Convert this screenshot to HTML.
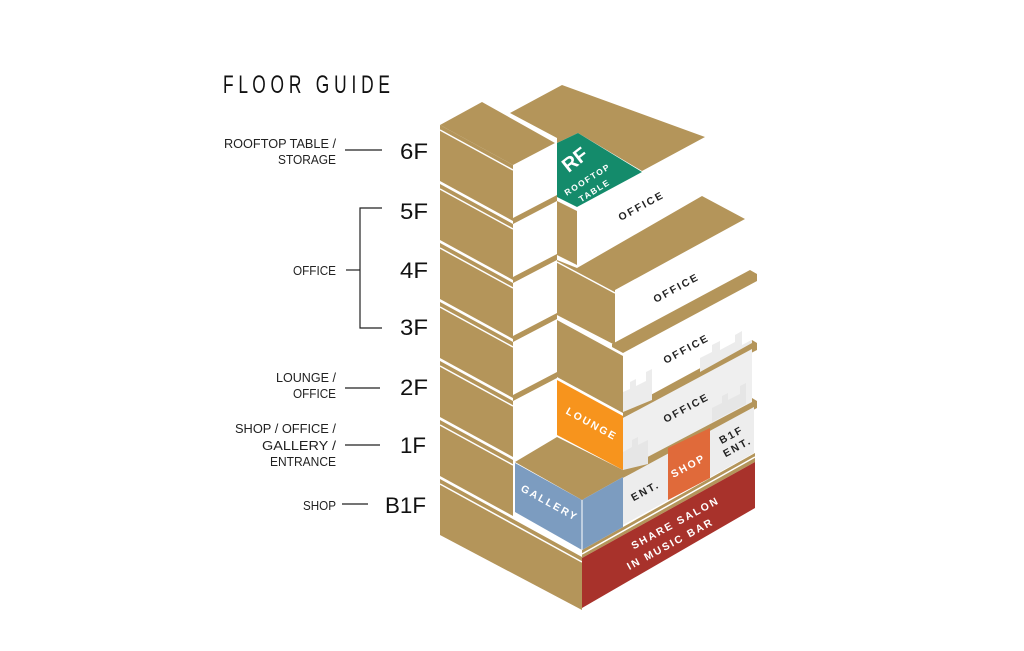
<!DOCTYPE html>
<html><head><meta charset="utf-8"><style>
html,body{margin:0;padding:0;background:#fff;}
svg{display:block;}
.lb{font-family:"Liberation Sans Narrow","Liberation Sans",sans-serif;font-size:12.5px;fill:#222;}
.fl{font-family:"Liberation Sans Narrow","Liberation Sans",sans-serif;font-size:22px;fill:#111;}
.ft{font-family:"Liberation Sans",sans-serif;font-weight:bold;font-size:10.5px;letter-spacing:2px;}
</style></head><body>
<svg width="1024" height="651" viewBox="0 0 1024 651" xmlns="http://www.w3.org/2000/svg">
<rect width="1024" height="651" fill="#fff"/>
<text x="223" y="93" font-family="Liberation Sans Narrow, Liberation Sans, sans-serif" font-size="25" fill="#111" textLength="167" lengthAdjust="spacingAndGlyphs">F L O O R &#160; G U I D E</text>
<g stroke="#222" stroke-width="1.2" fill="none">
<line x1="345" y1="150" x2="382" y2="150"/>
<polyline points="382,208 360,208 360,328 382,328"/>
<line x1="346" y1="270" x2="360" y2="270"/>
<line x1="345" y1="388" x2="380" y2="388"/>
<line x1="345" y1="445" x2="380" y2="445"/>
<line x1="342" y1="504" x2="368" y2="504"/>
</g>
<g class="lb">
<text x="224" y="148" textLength="112" lengthAdjust="spacingAndGlyphs">ROOFTOP TABLE /</text>
<text x="278" y="164" textLength="58" lengthAdjust="spacingAndGlyphs">STORAGE</text>
<text x="293" y="275" textLength="43" lengthAdjust="spacingAndGlyphs">OFFICE</text>
<text x="276" y="382" textLength="60" lengthAdjust="spacingAndGlyphs">LOUNGE /</text>
<text x="293" y="398" textLength="43" lengthAdjust="spacingAndGlyphs">OFFICE</text>
<text x="235" y="433" textLength="101" lengthAdjust="spacingAndGlyphs">SHOP / OFFICE /</text>
<text x="262" y="450" textLength="74" lengthAdjust="spacingAndGlyphs">GALLERY /</text>
<text x="270" y="466" textLength="66" lengthAdjust="spacingAndGlyphs">ENTRANCE</text>
<text x="303" y="510" textLength="33" lengthAdjust="spacingAndGlyphs">SHOP</text>
</g>
<g class="fl">
<text x="400" y="159" textLength="28" lengthAdjust="spacingAndGlyphs">6F</text>
<text x="400" y="219" textLength="28" lengthAdjust="spacingAndGlyphs">5F</text>
<text x="400" y="278" textLength="28" lengthAdjust="spacingAndGlyphs">4F</text>
<text x="400" y="335" textLength="28" lengthAdjust="spacingAndGlyphs">3F</text>
<text x="400" y="395" textLength="28" lengthAdjust="spacingAndGlyphs">2F</text>
<text x="400" y="453" textLength="26" lengthAdjust="spacingAndGlyphs">1F</text>
<text x="385" y="513" textLength="41" lengthAdjust="spacingAndGlyphs">B1F</text>
</g>

<g fill="#B4955A">
<polygon points="510,113 562,85 705,137 642,171 578,133 557,143 557,138"/>
<polygon points="440,125 482,102 555,143 513,165"/>
<polygon points="440,125 513,165 513,221 440,181"/>
<polygon points="440,184 513,224 513,280 440,240"/>
<polygon points="440,243 513,283 513,339 440,299"/>
<polygon points="440,302 513,342 513,398 440,358"/>
<polygon points="440,361 513,401 513,457 440,417"/>
<polygon points="440,420 513,460 513,516 440,476"/>
<polygon points="440,479 582,557 582,610 440,535"/>
<polygon points="513,218 557,195 557,201 513,224"/>
<polygon points="513,277 557,254 557,260 513,283"/>
<polygon points="513,336 557,313 557,319 513,342"/>
<polygon points="513,395 557,372 557,378 513,401"/>
<polygon points="557,201 577,211 577,265 557,255"/>
<polygon points="557,260 577,268 702,196 745,219 615,290 615,345 557,315"/>
<polygon points="612,344 750,270 757,274 757,281 623,353 612,347"/>
<polygon points="557,320 623,356 623,413 557,377"/>
<polygon points="623,410 752,340 757,343 757,350 623,418"/>
<polygon points="623,468 752,398 757,401 757,408 623,478"/>
<polygon points="515,462 557,437 623,470 623,477 582,500"/>
<polygon points="582,550 755,453 755,462 582,558"/>
</g>
<g stroke="#fff" stroke-width="1.5">
<line x1="440" y1="130" x2="513" y2="170"/>
<line x1="440" y1="189" x2="513" y2="229"/>
<line x1="440" y1="248" x2="513" y2="288"/>
<line x1="440" y1="307" x2="513" y2="347"/>
<line x1="440" y1="366" x2="513" y2="406"/>
<line x1="440" y1="425" x2="513" y2="465"/>
<line x1="440" y1="484" x2="582" y2="562"/>
<line x1="557" y1="262" x2="615" y2="293"/>
<line x1="582" y1="554" x2="755" y2="457"/>
</g>
<polygon points="557,143 578,133 642,172 577,207 557,197" fill="#148B6B"/>
<g fill="#ececec">
<polygon points="623,412 623,392 630,389 630,382 636,379 636,386 646,381 646,372 652,369 652,400"/>
<polygon points="700,372 700,358 712,352 712,345 720,341 720,350 735,342 735,335 742,331 742,345 752,340 752,343"/>
</g>
<polygon points="623,418 752,349 752,402 623,470" fill="#efefef"/>
<g fill="#e6e6e6">
<polygon points="623,470 623,452 632,447 632,440 638,437 638,445 648,440 648,464"/>
<polygon points="712,422 712,408 722,403 722,396 728,393 728,400 740,394 740,386 746,383 746,404"/>
</g>
<polygon points="557,380 623,416 623,470 557,435" fill="#F7941D"/>
<polygon points="623,478 754,407 754,453 623,525" fill="#ededed"/>
<polygon points="515,463 582,500 582,550 515,512" fill="#7C9CC0"/>
<polygon points="582,500 623,477 623,527 582,550" fill="#7C9CC0"/>
<line x1="582" y1="500" x2="582" y2="550" stroke="#fff" stroke-width="1"/>
<polygon points="668,448 710,428 710,478 668,500" fill="#E06A3A"/>
<polygon points="582,558 755,462 755,508 582,608" fill="#A8322B"/>

<g class="ft" fill="#222" text-anchor="middle">
<text transform="translate(643,209) rotate(-28.5)">OFFICE</text>
<text transform="translate(678,291) rotate(-28.5)">OFFICE</text>
<text transform="translate(688,352) rotate(-28.5)">OFFICE</text>
<text transform="translate(688,411) rotate(-28.5)">OFFICE</text>
<text transform="translate(647,494) rotate(-28.5)">ENT.</text>
<text transform="translate(733,438) rotate(-28.5)">B1F</text>
<text transform="translate(739,450) rotate(-28.5)">ENT.</text>
</g>
<g class="ft" fill="#fff" text-anchor="middle" font-weight="normal">
<text transform="translate(590,427) rotate(28.8)">LOUNGE</text>
<text transform="translate(548,506) rotate(28.8)">GALLERY</text>
<text transform="translate(690,469) rotate(-28.5)">SHOP</text>
<text transform="translate(677,526) rotate(-28.5)">SHARE SALON</text>
<text transform="translate(672,547) rotate(-28.5)">IN MUSIC BAR</text>
<text transform="translate(579,165) rotate(-38)" font-size="20" letter-spacing="0">RF</text>
<text transform="translate(589,182) rotate(-32)" font-size="8.5" letter-spacing="1.5">ROOFTOP</text>
<text transform="translate(596,193) rotate(-32)" font-size="8.5" letter-spacing="1.5">TABLE</text>
</g>
</svg>
</body></html>
